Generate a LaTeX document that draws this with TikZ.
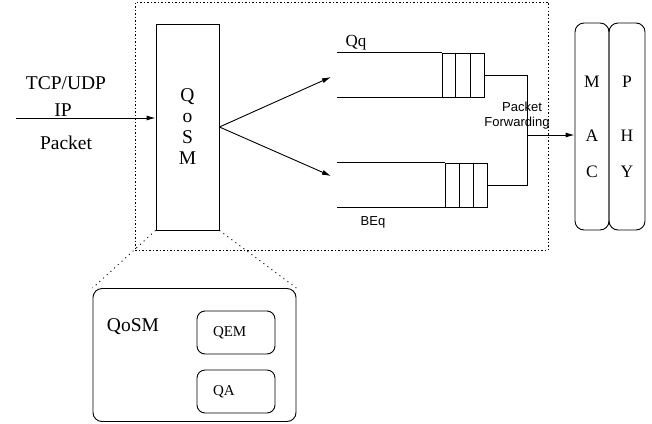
\documentclass[tikz,border=0pt]{standalone}
\usepackage{fontspec}
\setmainfont{Liberation Serif}
\setsansfont{Liberation Sans}
\usetikzlibrary{
  positioning,
  calc,
  arrows.meta,
  }

\begin{document}
\begin{tikzpicture}[x=1pt, y=-1pt, line width=0.9pt, >={Latex[length=9pt,width=5pt]},
                    every node/.style={inner sep=0pt, font=\fontsize{19.5}{21}\selectfont},
                    qosmbox/.style={draw, minimum width=63pt, minimum height=206pt, align=center},
                    frame/.style={draw, dash pattern=on 1.5pt off 2pt, minimum width=413pt, minimum height=248pt},
                    queue/.style={draw, minimum width=42pt, minimum height=44pt},
                    layer/.style={draw, rounded corners=9pt, minimum height=207pt, align=center, font=\fontsize{17.5}{36}\selectfont},
                    inbox/.style={draw, rounded corners=8pt, minimum height=43pt, text width=46pt, inner xsep=16pt, align=left, font=\fontsize{15}{16}\selectfont},
                    small/.style={font=\sffamily\fontsize{13}{14}\selectfont},
                    zoomline/.style={dash pattern=on 1pt off 4pt}]
                \useasboundingbox (0,0) rectangle (652,423);
                \node[frame] (frame) at (341.5,126) {};
                \node[qosmbox] (qosm) at (187.5,127) {Q\\o\\S\\M};
                \coordinate (src) at (16,118);
                \draw[->] (src) -- (src -| qosm.west);
                \node (tcp) at (66,83) {TCP/UDP};
                \node (ip) at (63,110) {IP};
                \node (pkt) at (66,143) {Packet};
                \node[queue] (qq) at (463,75) {};
                \node[queue] (beq) at (466.5,185) {};
                \coordinate (open) at (337,0);
                \foreach \q in {qq,beq} {
                    \draw (open |- \q.north) -- (\q.north west);
                    \draw (open |- \q.south) -- (\q.south west);
                    \foreach \f in {1/3,2/3}
                        \draw ($(\q.north west)!\f!(\q.north east)$) -- ($(\q.south west)!\f!(\q.south east)$);
                }
                \node[font=\fontsize{17}{18}\selectfont] (qqlbl) at (356,43) {Qq};
                \node[small] (beqlbl) at (373,222) {BEq};
                \coordinate (qqin) at (331,77);
                \coordinate (beqin) at (331,176);
                \draw[->] (qosm.east) -- (qqin);
                \draw[->] (qosm.east) -- (beqin);
                \node[layer, minimum width=34pt] (mac) at (592,126.5) {M\\[18pt]A\\C};
                \node[layer, minimum width=36pt] (phy) at (627,126.5) {P\\[18pt]H\\Y};
                \coordinate (fwd) at (527,135);
                \draw (qq.east) -| (fwd) |- (beq.east);
                \draw[->] (fwd) -- (fwd -| mac.west);
                \node[small] (fwdtop) at (522,107) {Packet};
                \node[small] (fwdbot) at (517,123) {Forwarding};
                \node[draw, rounded corners=9pt, minimum width=203pt, minimum height=133pt] (detail) at (194.5,355) {};
                \node (detlbl) at (133,327) {QoSM};
                \node[inbox] (qem) at (236,332.5) {QEM};
                \node[inbox] (qa) at (236,391.5) {QA};
                \draw[zoomline] (qosm.south west) -- (detail.north west);
                \draw[zoomline] (qosm.south east) -- (detail.north east);
\end{tikzpicture}
\end{document}
